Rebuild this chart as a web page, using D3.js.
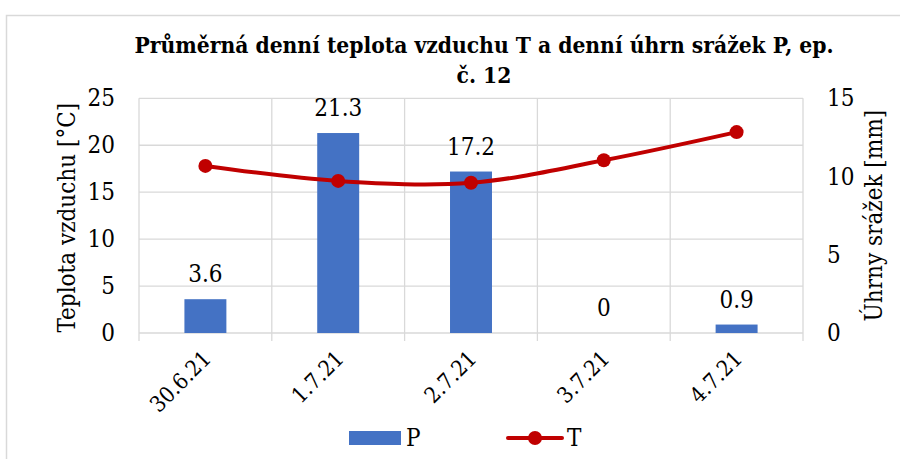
<!DOCTYPE html>
<html>
<head>
<meta charset="utf-8">
<script src="https://cdn.jsdelivr.net/npm/d3@7"></script>
<style>
  html, body { margin: 0; padding: 0; background: #fff; }
  svg text { font-family: "DejaVu Serif Condensed", "DejaVu Serif", serif; font-stretch: condensed; }
</style>
</head>
<body>
<svg id="chart" width="900" height="459"></svg>
<script>
// ---- data ----
const categories = ["30.6.21", "1.7.21", "2.7.21", "3.7.21", "4.7.21"];
const precipP = [3.6, 21.3, 17.2, 0, 0.9];          // P [mm]
const temperatureT = [17.8, 16.2, 16.0, 18.4, 21.4]; // T [°C]
const leftTicks = [0, 5, 10, 15, 20, 25];
const rightTicks = [0, 5, 10, 15];
const titleLines = ["Průměrná denní teplota vzduchu T a denní úhrn srážek P, ep.", "č. 12"];

// ---- layout ----
const svg = d3.select("#chart");
const L = 139, R = 803, T = 98.3, B = 333;
const grid = "#d9d9d9";
const fs = 24;

svg.append("rect").attr("x", 6.5).attr("y", 15.5).attr("width", 920).attr("height", 480)
  .attr("fill", "#fff").attr("stroke", grid).attr("stroke-width", 1.5);

const x = d3.scaleBand().domain(categories).range([L, R]).padding(0);
const yL = d3.scaleLinear().domain([0, 25]).range([B, T]);
const yR = d3.scaleLinear().domain([0, 15]).range([B, T]);

svg.append("g").selectAll("line").data(leftTicks).join("line")
  .attr("x1", L).attr("x2", R)
  .attr("y1", d => yL(d)).attr("y2", d => yL(d))
  .attr("stroke", grid).attr("stroke-width", 1.3);

const bounds = categories.map(c => x(c)).concat([x(categories[categories.length - 1]) + x.bandwidth()]);
svg.append("g").selectAll("line").data(bounds).join("line")
  .attr("x1", d => d).attr("x2", d => d)
  .attr("y1", T).attr("y2", B + 8)
  .attr("stroke", grid).attr("stroke-width", 1.3);

const axL = svg.append("g").attr("transform", `translate(${L - 24},0)`)
  .call(d3.axisLeft(yL).tickValues(leftTicks).tickSize(0).tickPadding(0));
axL.attr("font-family", null);
axL.select(".domain").remove();
axL.selectAll("text").attr("font-size", fs).attr("fill", "#000");

const axR = svg.append("g").attr("transform", `translate(${R + 24},0)`)
  .call(d3.axisRight(yR).tickValues(rightTicks).tickSize(0).tickPadding(0));
axR.attr("font-family", null);
axR.select(".domain").remove();
axR.selectAll("text").attr("font-size", fs).attr("fill", "#000");

const bw = x.bandwidth() * 0.316;
svg.append("g").selectAll("rect").data(precipP).join("rect")
  .attr("x", (d, i) => x(categories[i]) + x.bandwidth() / 2 - bw / 2)
  .attr("y", d => yL(d))
  .attr("width", bw)
  .attr("height", d => B - yL(d))
  .attr("fill", "#4472C4");

svg.append("g").selectAll("text").data(precipP).join("text")
  .attr("x", (d, i) => x(categories[i]) + x.bandwidth() / 2)
  .attr("y", d => yL(d) - 17)
  .attr("text-anchor", "middle")
  .attr("font-size", fs).attr("fill", "#000")
  .text(d => d);

const line = d3.line()
  .x((d, i) => x(categories[i]) + x.bandwidth() / 2)
  .y(d => yL(d))
  .curve(d3.curveCardinal.tension(0));
svg.append("path").datum(temperatureT)
  .attr("d", line).attr("fill", "none")
  .attr("stroke", "#C00000").attr("stroke-width", 4).attr("stroke-linecap", "round");
svg.append("g").selectAll("circle").data(temperatureT).join("circle")
  .attr("cx", (d, i) => x(categories[i]) + x.bandwidth() / 2)
  .attr("cy", d => yL(d))
  .attr("r", 7).attr("fill", "#C00000");

svg.append("g").selectAll("text").data(categories).join("text")
  .attr("transform", c => `translate(${x(c) + x.bandwidth() / 2 + 7},${B + 27}) rotate(-45)`)
  .attr("text-anchor", "end")
  .attr("font-size", 22).attr("fill", "#000")
  .text(c => c);

svg.append("text")
  .attr("transform", `translate(75,${(T + B) / 2 + 2}) rotate(-90)`)
  .attr("text-anchor", "middle").attr("font-size", fs).attr("fill", "#000")
  .text("Teplota vzduchu [°C]");
svg.append("text")
  .attr("transform", `translate(882,${(T + B) / 2}) rotate(-90)`)
  .attr("text-anchor", "middle").attr("font-size", fs).attr("fill", "#000")
  .text("Úhrny srážek [mm]");

svg.append("g").selectAll("text").data(titleLines).join("text")
  .attr("x", 484).attr("y", (d, i) => 53 + i * 30)
  .attr("text-anchor", "middle").attr("font-size", 22.6).attr("font-weight", "bold").attr("fill", "#000")
  .text(d => d);

const lg = svg.append("g");
lg.append("rect").attr("x", 349).attr("y", 431).attr("width", 52).attr("height", 14).attr("fill", "#4472C4");
lg.append("text").attr("x", 406).attr("y", 446).attr("font-size", fs).attr("fill", "#000").text("P");
lg.append("line").attr("x1", 508).attr("x2", 562).attr("y1", 438).attr("y2", 438)
  .attr("stroke", "#C00000").attr("stroke-width", 4).attr("stroke-linecap", "round");
lg.append("circle").attr("cx", 535).attr("cy", 438).attr("r", 7).attr("fill", "#C00000");
lg.append("text").attr("x", 567).attr("y", 446).attr("font-size", fs).attr("fill", "#000").text("T");
</script>
</body>
</html>
